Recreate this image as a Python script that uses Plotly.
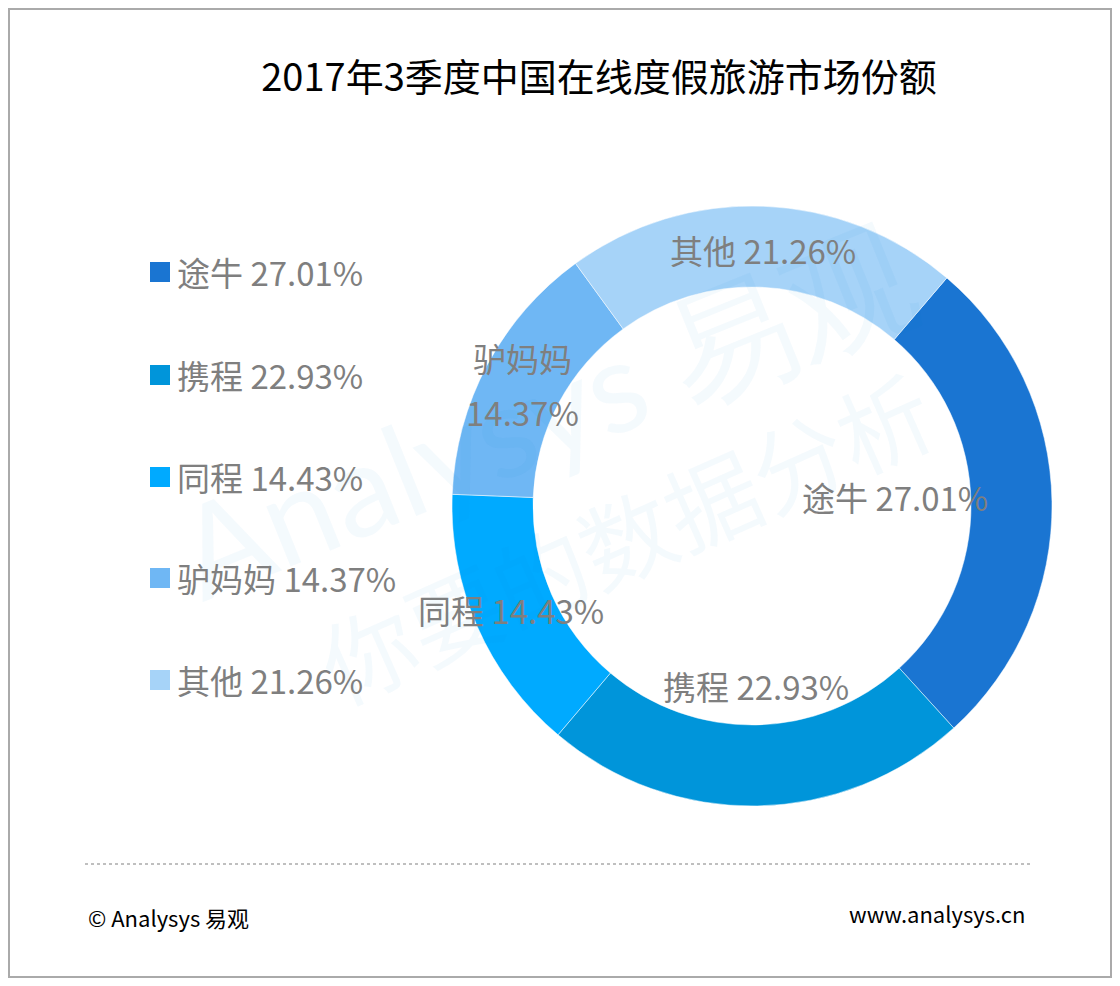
import plotly.graph_objects as go

# data
companies = ["途牛", "携程", "同程", "驴妈妈", "其他"]
shares = [27.01, 22.93, 14.43, 14.37, 21.26]
colors = ["#1a75d2", "#0095da", "#00aaff", "#6fb7f4", "#a6d3f8"]

title = "2017年3季度中国在线度假旅游市场份额"
source_left = "© Analysys 易观"
source_right = "www.analysys.cn"

OFF = 8  # page body margin
W, H = 1120 - 2 * OFF, 986 - 2 * OFF
FONT = "Noto Sans CJK SC"
GRAY = "#7f7f7f"


def px(x, y):
    # pixel (as seen on the page) -> paper coords
    return (x - OFF) / W, 1 - (y - OFF) / H


fig = go.Figure()

cx, cy, r = 752, 506, 300
x0, y0 = px(cx - r, cy + r)
x1, y1 = px(cx + r, cy - r)

fig.add_trace(
    go.Pie(
        labels=companies,
        values=shares,
        marker=dict(colors=colors, line=dict(color="white", width=0.5)),
        hole=0.73,
        sort=False,
        direction="clockwise",
        rotation=40.5,
        textinfo="none",
        showlegend=False,
        domain=dict(x=[x0, x1], y=[y0, y1]),
    )
)

annotations = []
shapes = []


def note(text, x, y, size, color=GRAY, xanchor="center", **kw):
    ax, ay = px(x, y)
    annotations.append(dict(
        text=text, x=ax, y=ay, xref="paper", yref="paper",
        xanchor=xanchor, yanchor="middle", showarrow=False,
        font=dict(family=kw.pop("family", FONT), size=size, color=color), **kw,
    ))


# watermark
note("Analysys 易观", 545, 410, 128, color="rgba(0,140,220,0.045)",
     family="Lato", textangle=-22)
note("你要的数据分析", 625, 535, 94, color="rgba(0,140,220,0.045)", textangle=-24)

# slice labels (placed like the original)
label_pos = [(895, 497), (756, 686), (511, 610), (522, 385), (763, 250)]
for name, val, (lx, ly) in zip(companies, shares, label_pos):
    if len(name) > 2:
        note(name, lx, ly - 27, 33)
        note(f"{val:.2f}%", lx, ly + 27, 33)
    else:
        note(f"{name} {val:.2f}%", lx, ly, 33)

# legend
legend_y = [272, 375, 477, 578, 680]
for name, val, col, ly in zip(companies, shares, colors, legend_y):
    sx0, sy0 = px(150, ly + 10)
    sx1, sy1 = px(170, ly - 10)
    shapes.append(dict(type="rect", xref="paper", yref="paper",
                       x0=sx0, y0=sy0, x1=sx1, y1=sy1,
                       fillcolor=col, line=dict(width=0)))
    note(f"{name} {val:.2f}%", 175, ly, 33, xanchor="left")

# footer
lx0, ly0 = px(85, 864)
lx1, _ = px(1030, 864)
shapes.append(dict(type="line", xref="paper", yref="paper",
                   x0=lx0, y0=ly0, x1=lx1, y1=ly0,
                   line=dict(color="#aaaaaa", width=1.5, dash="dot")))
note(source_left, 86, 917, 22, color="black", xanchor="left")
note(source_right, 1028, 913, 22, color="black", xanchor="right")

# outer border
bx0, by0 = px(9, 977)
bx1, by1 = px(1111, 9)
shapes.append(dict(type="rect", xref="paper", yref="paper",
                   x0=bx0, y0=by0, x1=bx1, y1=by1,
                   line=dict(color="#aaaaaa", width=2)))

tx, ty = px(599, 78)
fig.update_layout(
    width=W,
    height=H,
    margin=dict(l=0, r=0, t=0, b=0),
    paper_bgcolor="white",
    plot_bgcolor="white",
    title=dict(
        text=title, x=tx, xanchor="center", y=ty, yanchor="middle",
        font=dict(family=FONT, size=38, color="black"),
    ),
    annotations=annotations,
    shapes=shapes,
)

fig.write_html("out.html")
